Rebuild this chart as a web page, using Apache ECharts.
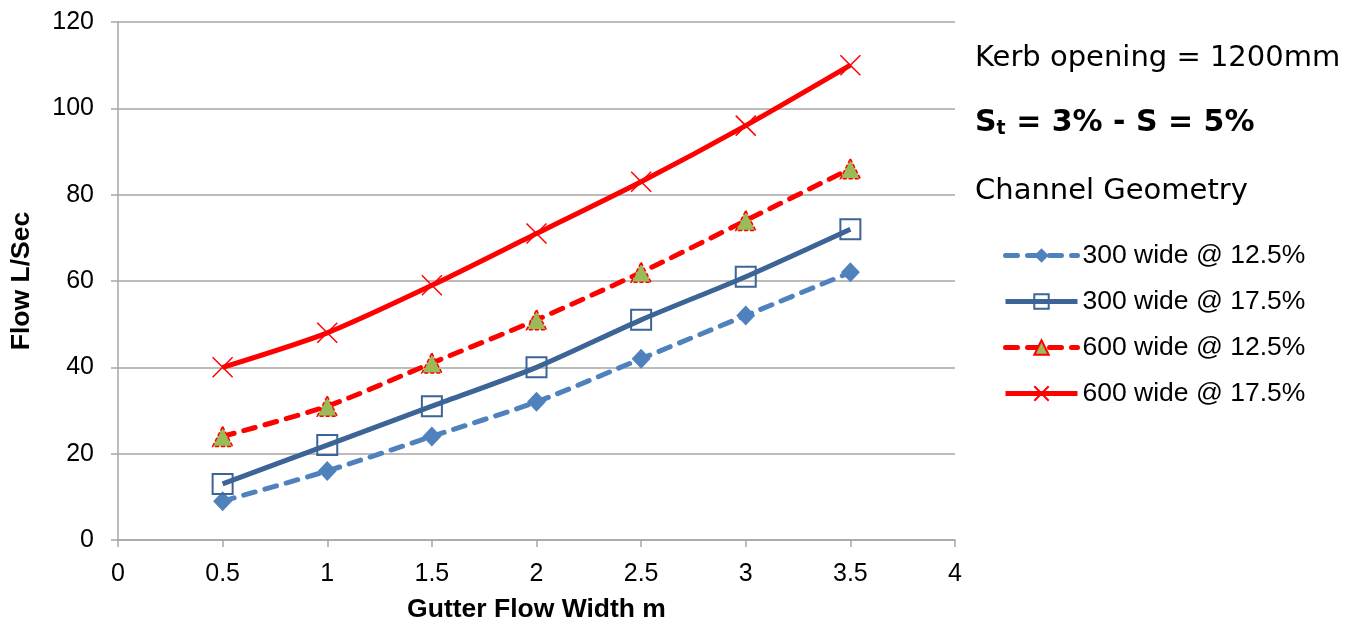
<!DOCTYPE html>
<html>
<head>
<meta charset="utf-8">
<script src="https://cdn.jsdelivr.net/npm/echarts@6/dist/echarts.min.js"></script>
<style>
  html, body { margin: 0; padding: 0; background: #fff; }
  #chart { width: 1363px; height: 623px; }
</style>
</head>
<body>
<div id="chart"></div>
<script>
// Gutter flow width (m) on the x axis
const widths = [0.5, 1, 1.5, 2, 2.5, 3, 3.5];

// Captured flow (L/s) for each channel geometry
const flow300w125 = [9, 16, 24, 32, 42, 52, 62];
const flow300w175 = [13, 22, 31, 40, 51, 61, 72];
const flow600w125 = [24, 31, 41, 51, 62, 74, 86];
const flow600w175 = [40, 48, 59, 71, 83, 96, 110];

const seriesNames = ['300 wide @ 12.5%', '300 wide @ 17.5%', '600 wide @ 12.5%', '600 wide @ 17.5%'];

const xTicks = { min: 0, max: 4, step: 0.5 };
const yTicks = { min: 0, max: 120, step: 20 };

const pairs = (ys) => widths.map((x, i) => [x, ys[i]]);

const gridColor = '#A6A6A6';
const crossPath = 'path://M0,0L20,20M20,0L0,20';

const chart = echarts.init(document.getElementById('chart'), null, { renderer: 'canvas' });

chart.setOption({
  animation: false,
  backgroundColor: '#fff',
  grid: { left: 118, right: 408, top: 22, bottom: 83, containLabel: false, outerBoundsMode: 'none' },
  xAxis: {
    type: 'value',
    min: xTicks.min, max: xTicks.max, interval: xTicks.step,
    name: 'Gutter Flow Width m',
    nameLocation: 'middle',
    nameGap: 56,
    nameTextStyle: { fontFamily: 'Liberation Sans', fontWeight: 'bold', fontSize: 26.5, color: '#000' },
    axisLine: { show: true, lineStyle: { color: gridColor, width: 1.5 } },
    axisTick: { show: true, inside: false, length: 7, lineStyle: { color: gridColor, width: 1.5 } },
    axisLabel: { fontFamily: 'Liberation Sans', fontSize: 25, color: '#000', margin: 22 },
    splitLine: { show: false }
  },
  yAxis: {
    type: 'value',
    min: yTicks.min, max: yTicks.max, interval: yTicks.step,
    name: 'Flow L/Sec',
    nameLocation: 'middle',
    nameGap: 83,
    nameRotate: 90,
    nameTextStyle: { fontFamily: 'Liberation Sans', fontWeight: 'bold', fontSize: 26.5, color: '#000' },
    axisLine: { show: true, lineStyle: { color: gridColor, width: 1.5 } },
    axisTick: { show: true, inside: false, length: 7, lineStyle: { color: gridColor, width: 1.5 } },
    axisLabel: { fontFamily: 'Liberation Sans', fontSize: 25, color: '#000', margin: 24 },
    splitLine: { show: true, lineStyle: { color: gridColor, width: 1.5 } }
  },
  legend: {
    orient: 'vertical',
    left: 998,
    top: 237,
    itemWidth: 72,
    itemHeight: 18,
    itemGap: 19,
    lineStyle: { width: 'inherit' },
    textStyle: { fontFamily: 'Liberation Sans', fontSize: 26.5, color: '#000' },
    data: seriesNames
  },
  graphic: [
    {
      type: 'text', left: 975, top: 44,
      style: { text: 'Kerb opening = 1200mm', font: '29px "DejaVu Sans"', fill: '#000' }
    },
    {
      type: 'text', left: 975, top: 108,
      style: {
        text: '{b|S}{s|t}{b| = 3% - S = 5%}',
        rich: {
          b: { fontFamily: 'DejaVu Sans', fontWeight: 'bold', fontSize: 30, color: '#000' },
          s: { fontFamily: 'DejaVu Sans', fontWeight: 'bold', fontSize: 19, color: '#000', verticalAlign: 'bottom', padding: [13, 0, 0, 0] }
        }
      }
    },
    {
      type: 'text', left: 975, top: 177,
      style: { text: 'Channel Geometry', font: '29px "DejaVu Sans"', fill: '#000' }
    }
  ],
  series: [
    {
      name: seriesNames[0], type: 'line', data: pairs(flow300w125), smooth: 0.25,
      symbol: 'diamond', symbolSize: [19, 20],
      itemStyle: { color: '#4F81BD' },
      lineStyle: { color: '#4F81BD', width: 5, type: [12, 10], cap: 'round' },
      z: 2
    },
    {
      name: seriesNames[1], type: 'line', data: pairs(flow300w175), smooth: 0.25,
      symbol: 'rect', symbolSize: 20,
      itemStyle: { color: 'rgba(255,255,255,0)', borderColor: '#3C6497', borderWidth: 2 },
      lineStyle: { color: '#3C6497', width: 5 },
      z: 3
    },
    {
      name: seriesNames[2], type: 'line', data: pairs(flow600w125), smooth: 0.25,
      symbol: 'triangle', symbolSize: [20, 20],
      itemStyle: { color: '#9BBB59', borderColor: '#FF0000', borderWidth: 1.5, borderType: [4, 2] },
      lineStyle: { color: '#FF0000', width: 5, type: [12, 10], cap: 'round' },
      z: 4
    },
    {
      name: seriesNames[3], type: 'line', data: pairs(flow600w175), smooth: 0.25,
      symbol: crossPath, symbolSize: 20,
      itemStyle: { color: '#FF0000', borderColor: '#FF0000', borderWidth: 1.5 },
      lineStyle: { color: '#FF0000', width: 5 },
      z: 5
    }
  ]
});
</script>
</body>
</html>
